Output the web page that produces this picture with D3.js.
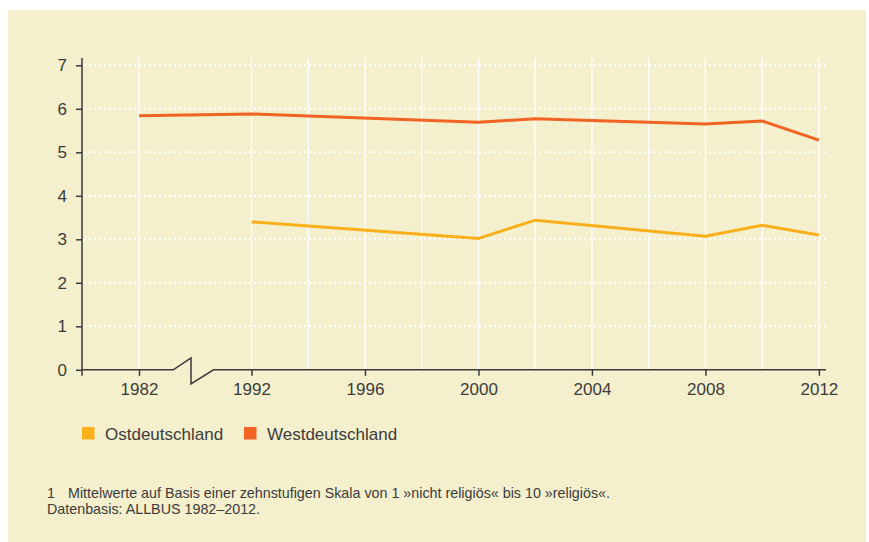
<!DOCTYPE html>
<html>
<head>
<meta charset="utf-8">
<script src="https://cdn.jsdelivr.net/npm/d3@7"></script>
<style>
  body { margin: 0; background: #fff; }
  text { font-family: "Liberation Sans", Arial, Helvetica, sans-serif; fill: #3c3c3c; }
</style>
</head>
<body>
<div id="chart"></div>
<script>
"use strict";
// Mittelwerte Religiosität (Skala 1-10)
var yearsWest = [1982, 1992, 2000, 2002, 2008, 2010, 2012];
var valuesWest = [5.84, 5.88, 5.69, 5.77, 5.65, 5.72, 5.28];
var yearsEast = [1992, 2000, 2002, 2008, 2010, 2012];
var valuesEast = [3.40, 3.02, 3.44, 3.07, 3.32, 3.10];
var xTickYears = [1982, 1992, 1996, 2000, 2004, 2008, 2012];
var gridYears = [1982, 1992, 1994, 1996, 1998, 2000, 2002, 2004, 2006, 2008, 2010, 2012];
var yTicks = [0, 1, 2, 3, 4, 5, 6, 7];
var legendLabels = ["Ostdeutschland", "Westdeutschland"];
var footnotes = ["Mittelwerte auf Basis einer zehnstufigen Skala von 1 \u00bbnicht religi\u00f6s\u00ab bis 10 \u00bbreligi\u00f6s\u00ab.",
                 "Datenbasis: ALLBUS 1982\u20132012."];

var colorEast = "#fbb01b";
var colorWest = "#f26424";
var axisColor = "#3a3a3a";

var width = 869, height = 542;
var svg = d3.select("#chart").append("svg")
    .attr("width", width)
    .attr("height", height);

svg.append("rect")
    .attr("x", 8).attr("y", 10)
    .attr("width", 858).attr("height", 532)
    .attr("fill", "#f4efcd");

// piecewise scale with compressed gap 1982-1992
var x = d3.scaleLinear()
    .domain([1980, 1982, 1992, 2012.25])
    .range([82, 139, 251.5, 826]);
var y = d3.scaleLinear()
    .domain([0, 7])
    .range([369.8, 65.3]);

var plotTop = 58;

// vertical grid
svg.append("g").selectAll("line")
    .data(gridYears)
    .enter().append("line")
    .attr("x1", function (d) { return x(d); })
    .attr("x2", function (d) { return x(d); })
    .attr("y1", plotTop)
    .attr("y2", y(0))
    .attr("stroke", "#fff")
    .attr("stroke-width", 1.3);

// horizontal dotted grid
svg.append("g").selectAll("line")
    .data(yTicks.slice(1))
    .enter().append("line")
    .attr("x1", x(1980) + 2)
    .attr("x2", 827)
    .attr("y1", function (d) { return y(d); })
    .attr("y2", function (d) { return y(d); })
    .attr("stroke", "#fff")
    .attr("stroke-width", 2)
    .attr("stroke-dasharray", "2,3");

// lines
var line = d3.line()
    .x(function (d) { return x(d[0]); })
    .y(function (d) { return y(d[1]); });

svg.append("path")
    .datum(d3.zip(yearsEast, valuesEast))
    .attr("d", line)
    .attr("fill", "none")
    .attr("stroke", colorEast)
    .attr("stroke-width", 3);

svg.append("path")
    .datum(d3.zip(yearsWest, valuesWest))
    .attr("d", line)
    .attr("fill", "none")
    .attr("stroke", colorWest)
    .attr("stroke-width", 3);

// y axis
var yAxis = d3.axisLeft(y)
    .tickValues(yTicks)
    .tickFormat(d3.format("d"))
    .tickSize(6)
    .tickPadding(9);
var gy = svg.append("g")
    .attr("transform", "translate(" + x(1980) + ",0)")
    .call(yAxis);
gy.select(".domain").remove();
gy.append("line")
    .attr("x1", 0).attr("x2", 0)
    .attr("y1", plotTop).attr("y2", y(0) + 6)
    .attr("stroke", axisColor)
    .attr("stroke-width", 1.5);
gy.selectAll(".tick line").attr("stroke", axisColor).attr("stroke-width", 1.5);
gy.selectAll(".tick text")
    .style("font-size", "17px")
    .style("fill", "#3c3c3c");

// x axis with break
var xAxis = d3.axisBottom(x)
    .tickValues(xTickYears)
    .tickFormat(d3.format("d"))
    .tickSize(6)
    .tickPadding(7);
var gx = svg.append("g")
    .attr("transform", "translate(0," + y(0) + ")")
    .call(xAxis);
gx.select(".domain").remove();
gx.selectAll(".tick line").attr("stroke", axisColor).attr("stroke-width", 1.5);
gx.selectAll(".tick text")
    .style("font-size", "17px")
    .style("fill", "#3c3c3c");

var y0 = y(0);
var breakPath = d3.path();
breakPath.moveTo(x(1980), y0);
breakPath.lineTo(173.3, y0);
breakPath.lineTo(191, y0 - 12);
breakPath.lineTo(191, y0 + 14);
breakPath.lineTo(213.5, y0);
breakPath.lineTo(x(2012.25), y0);
svg.append("path")
    .attr("d", breakPath.toString())
    .attr("fill", "none")
    .attr("stroke", axisColor)
    .attr("stroke-width", 1.5);

// legend
var legendX = [82, 244];
var legend = svg.append("g").selectAll("g")
    .data(legendLabels)
    .enter().append("g")
    .attr("transform", function (d, i) { return "translate(" + legendX[i] + ",427)"; });
legend.append("rect")
    .attr("width", 12.5).attr("height", 12.5)
    .attr("fill", function (d, i) { return i === 0 ? colorEast : colorWest; });
legend.append("text")
    .attr("x", 23)
    .attr("y", 12.5)
    .style("font-size", "17px")
    .text(function (d) { return d; });

// footnotes
svg.append("text")
    .attr("x", 47).attr("y", 498)
    .style("font-size", "14.3px")
    .text("1");
svg.append("text")
    .attr("x", 68).attr("y", 498)
    .style("font-size", "14.3px")
    .text(footnotes[0]);
svg.append("text")
    .attr("x", 47).attr("y", 514)
    .style("font-size", "14.3px")
    .text(footnotes[1]);
</script>
</body>
</html>
